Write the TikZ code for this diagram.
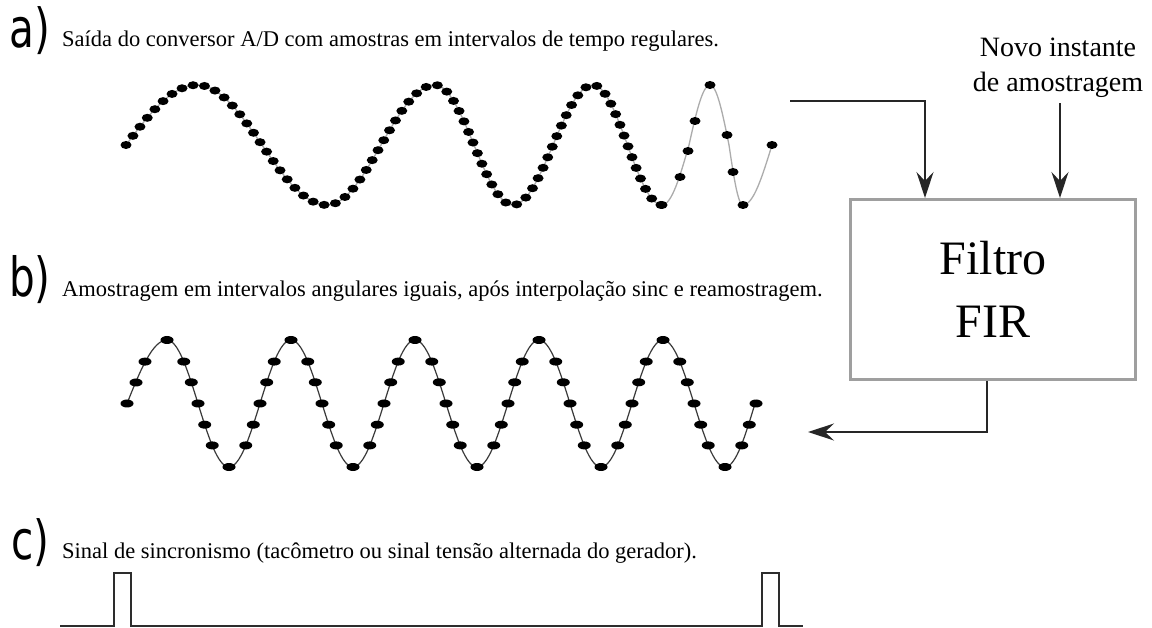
\documentclass[tikz,border=0pt]{standalone}
\usepackage{fontspec}
\usepackage{graphicx}
\setmainfont{Liberation Serif}
\newfontfamily\labfont{DejaVu Sans}
\usetikzlibrary{arrows.meta,shapes.geometric,decorations.markings}
\begin{document}
\begin{tikzpicture}[x=1pt,y=-1pt,
  caption/.style={anchor=base west, inner sep=0pt, font=\fontsize{22.5}{27}\selectfont},
  partlab/.style={anchor=base west, inner sep=0pt, font=\labfont\fontsize{54}{60}\selectfont},
  novo/.style={anchor=base, inner sep=0pt, font=\fontsize{28}{34}\selectfont},
  firbox/.style={draw=gray!75, line width=3pt, minimum width=285pt, minimum height=180pt,
    align=center, inner sep=0pt, font=\fontsize{48}{63}\selectfont},
  arr/.style={draw=black!85, line width=1.4pt, -{Stealth[length=26pt,width=17pt,inset=9pt]}},
  waveA/.style={draw=gray!65, line width=1.3pt},
  waveB/.style={draw=gray!45!black, line width=1.2pt},
  pulse/.style={draw=gray!35!black, line width=2.6pt},
  dotA/.style={ellipse, fill=black, inner sep=0pt, minimum width=11pt, minimum height=8pt},
  dotB/.style={ellipse, fill=black, inner sep=0pt, minimum width=13pt, minimum height=8pt}
]
\useasboundingbox[fill=white] (0,0) rectangle (1152,628);

% labels and captions
\node[partlab] (la) at (9,48) {\scalebox{0.75}[1]{a)}};
\node[caption] (ca) at (62,47) {Saída do conversor A/D com amostras em intervalos de tempo regulares.};
\node[partlab] (lb) at (9,297) {\scalebox{0.75}[1]{b)}};
\node[caption] (cb) at (62,297) {Amostragem em intervalos angulares iguais, após interpolação sinc e reamostragem.};
\node[partlab] (lc) at (11,559) {\scalebox{0.75}[1]{c)}};
\node[caption] (cc) at (62,558) {Sinal de sincronismo (tacômetro ou sinal tensão alternada do gerador).};

% waveform a (chirp)
\draw[waveA, postaction={decorate, decoration={markings,
    mark=between positions 0 and 1 step 11.5pt with {\node[dotA]{};}}}]
  (126,145) sin (197,85) cos (262,145) sin (327,205) cos (381,145) sin (435,85)
  cos (474,145) sin (513,205) cos (553,145) sin (593,85) cos (627.5,145) sin (662,205);
\draw[waveA] (662,205) cos (689,145) sin (710,85) cos (729,145) sin (743,205) cos (772,145);
\foreach \q [count=\k] in {(662,205),(680,177),(688,151),(695,121),(710,85),(727,135),(733,172),(743,205),(772,145)}{
  \node[dotA] (a\k) at \q {};
}

% waveform b
\draw[waveB] (127,403.5) sin (167,340) cos (198,403.5) sin (229,467) cos (260,403.5)
  sin (291,340) cos (322,403.5) sin (353,467) cos (384,403.5) sin (415,340)
  cos (446,403.5) sin (477,467) cos (508,403.5) sin (539,340) cos (570,403.5)
  sin (601,467) cos (632,403.5) sin (663,340) cos (694,403.5) sin (725,467) cos (755,403.5);
\node[dotB] (bs1) at (127,403.5) {};
\node[dotB] (bs2) at (136,382.5) {};
\node[dotB] (bs3) at (145,361.6) {};
\foreach \n in {0,...,3}{
  \foreach \p [count=\k] in {90,138.7,160.5,180,199.5,221.3,270,318.7,340.5,360,379.5,401.3}{
    \node[dotB] (b\n-\k) at ({167+\n*124+(\p-90)*0.344444}, {403.5-63.5*sin(\p)}) {};
  }
}
\foreach \p [count=\k] in {90,138.7,160.5,180,199.5,221.3,270,318.7,340.5,360}{
  \node[dotB] (b4-\k) at ({663+(\p-90)*0.344444}, {403.5-63.5*sin(\p)}) {};
}

% waveform c (sync pulses)
\draw[pulse] (60,626) -- (114,626) -- (114,573) -- (131,573) -- (131,626) -- (762,626)
  -- (762,573) -- (779,573) -- (779,626) -- (803,626);

% FIR filter block
\node[firbox] (fir) at (993,289.5) {Filtro\\FIR};
\node[novo] (novo1) at (1058,57) {Novo instante};
\node[novo] (novo2) at (1058,92) {de amostragem};

\coordinate (ain) at (790,101);
\coordinate (ain2) at ([xshift=76pt]fir.north west);
\draw[arr] (ain) -| (ain2);

\coordinate (nin) at ([xshift=2pt,yshift=-5pt]novo2.south);
\draw[arr] (nin) -- (nin |- fir.north);

\coordinate (fout) at ([xshift=138pt]fir.south west);
\coordinate (bout) at (808,432);
\draw[arr] (fout) |- (bout);
\end{tikzpicture}
\end{document}
